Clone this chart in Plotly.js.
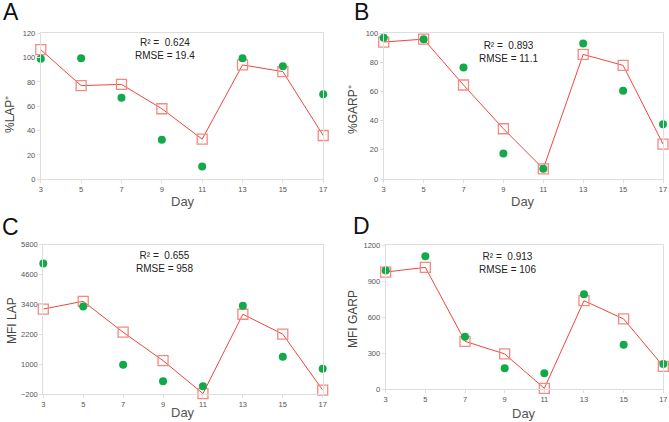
<!DOCTYPE html>
<html>
<head>
<meta charset="utf-8">
<script src="https://cdn.plot.ly/plotly-3.0.1.min.js"></script>
<style>
  html, body { margin: 0; padding: 0; background: #fff; }
  #chart { width: 669px; height: 422px; }
</style>
</head>
<body>
<div id="chart"></div>
<script>
// Sampling days
const days = [3, 5, 7, 9, 11, 13, 15, 17];

// Panel A: %LAP+ (observed dots, model squares)
const lapPctObserved = [99, 99.5, 67, 32.5, 10.5, 99.5, 93, 70];
const lapPctModel    = [106.5, 77, 78, 58, 33, 94, 88.5, 36];

// Panel B: %GARP+
const garpPctObserved = [97, 96, 76.5, 17.5, 7, 93, 60.5, 37.5];
const garpPctModel    = [94, 96, 64.5, 34.5, 7, 85.5, 78, 24];

// Panel C: MFI LAP
const lapMfiObserved = [5050, 3320, 990, 320, 120, 3350, 1310, 820];
const lapMfiModel    = [3220, 3530, 2290, 1150, -170, 3010, 2210, -30];

// Panel D: MFI GARP
const garpMfiObserved = [987, 1106, 438, 175, 133, 790, 371, 211];
const garpMfiModel    = [975, 1014, 399, 294, 8, 737, 585, 191];

// Fit statistics shown in each panel
const panelLetters = ['A', 'B', 'C', 'D'];
const rSquared = ['0.624', '0.893', '0.655', '0.913'];
const rmse = ['19.4', '11.1', '958', '106'];
const yTitles = ['%LAP\u207A', '%GARP\u207A', 'MFI LAP', 'MFI GARP'];

const W = 669, H = 422;
const obsColor = '#12a94a';
const lineColor = '#f0463c';
const squareColor = '#f38a82';

// Plot-area boxes in pixels: [left, right, top, bottom]
const boxes = [
  [40.8, 323.2, 33.3, 179.3],
  [383.7, 663.0, 33.3, 179.0],
  [43.3, 322.7, 244.7, 394.3],
  [385.7, 663.3, 245.0, 389.3]
];
const yRanges = [[0, 120], [0, 100], [-200, 5800], [0, 1200]];
const yDticks = [20, 20, 1200, 300];
const yTick0 = [0, 0, -200, 0];

const observed = [lapPctObserved, garpPctObserved, lapMfiObserved, garpMfiObserved];
const model = [lapPctModel, garpPctModel, lapMfiModel, garpMfiModel];

const traces = [];
const layout = {
  width: W, height: H,
  margin: {l: 0, r: 0, t: 0, b: 0},
  paper_bgcolor: '#fff',
  plot_bgcolor: '#fff',
  showlegend: false,
  font: {family: 'Liberation Sans, Arial, sans-serif', color: '#555'},
  annotations: []
};

// Positions (px) of panel letters, axis titles and statistics text
const letterPos = [[11, 12], [361, 12], [10, 227], [361, 226]];
const statPos = [[165, 49.5], [508, 51.7], [164.5, 261.8], [507.5, 263.3]];
const dayPos = [[183, 201.5], [523, 201], [183, 412.5], [524, 413]];
const yTitlePos = [[10, 115], [353, 110], [12, 321], [353, 319]];

const px = (x) => x / W;
const py = (y) => 1 - y / H;

for (let i = 0; i < 4; i++) {
  const n = i === 0 ? '' : String(i + 1);
  const xa = 'x' + n, ya = 'y' + n;
  const b = boxes[i];

  traces.push({
    x: days, y: model[i], xaxis: xa, yaxis: ya,
    type: 'scatter', mode: 'lines+markers', cliponaxis: false,
    line: {color: lineColor, width: 1},
    marker: {symbol: 'square-open', size: 10, color: squareColor, line: {width: 1.3, color: squareColor}}
  });
  traces.push({
    x: days, y: observed[i], xaxis: xa, yaxis: ya,
    type: 'scatter', mode: 'markers', cliponaxis: false,
    marker: {symbol: 'circle', size: 8, color: obsColor}
  });

  const axisCommon = {
    showline: true, mirror: true, linecolor: '#dedede', linewidth: 1,
    showgrid: false, zeroline: false,
    ticks: 'outside', ticklen: 3, tickcolor: '#dedede', tickwidth: 1,
    tickfont: {size: 7.5, color: '#555'},
    fixedrange: true
  };
  layout['xaxis' + n] = Object.assign({}, axisCommon, {
    domain: [px(b[0]), px(b[1])], anchor: ya,
    range: [3, 17], tickmode: 'linear', tick0: 3, dtick: 2
  });
  layout['yaxis' + n] = Object.assign({}, axisCommon, {
    domain: [py(b[3]), py(b[2])], anchor: xa,
    range: yRanges[i], tickmode: 'linear', tick0: yTick0[i], dtick: yDticks[i]
  });

  layout.annotations.push({
    xref: 'paper', yref: 'paper', x: px(letterPos[i][0]), y: py(letterPos[i][1]),
    text: panelLetters[i], showarrow: false, xanchor: 'center', yanchor: 'middle',
    font: {size: 23, color: '#111'}
  });
  layout.annotations.push({
    xref: 'paper', yref: 'paper', x: px(statPos[i][0]), y: py(statPos[i][1]),
    text: 'R\u00B2 =\u00a0 ' + rSquared[i] + '<br>RMSE = ' + rmse[i],
    showarrow: false, xanchor: 'center', yanchor: 'middle', align: 'center',
    font: {size: 10, color: '#222'}
  });
  layout.annotations.push({
    xref: 'paper', yref: 'paper', x: px(dayPos[i][0]), y: py(dayPos[i][1]),
    text: 'Day', showarrow: false, xanchor: 'center', yanchor: 'middle',
    font: {size: 13, color: '#555'}
  });
  layout.annotations.push({
    xref: 'paper', yref: 'paper', x: px(yTitlePos[i][0]), y: py(yTitlePos[i][1]),
    text: yTitles[i], showarrow: false, xanchor: 'center', yanchor: 'middle', textangle: -90,
    font: {size: 12, color: '#444'}
  });
}

Plotly.newPlot('chart', traces, layout, {staticPlot: true, displayModeBar: false});
</script>
</body>
</html>
